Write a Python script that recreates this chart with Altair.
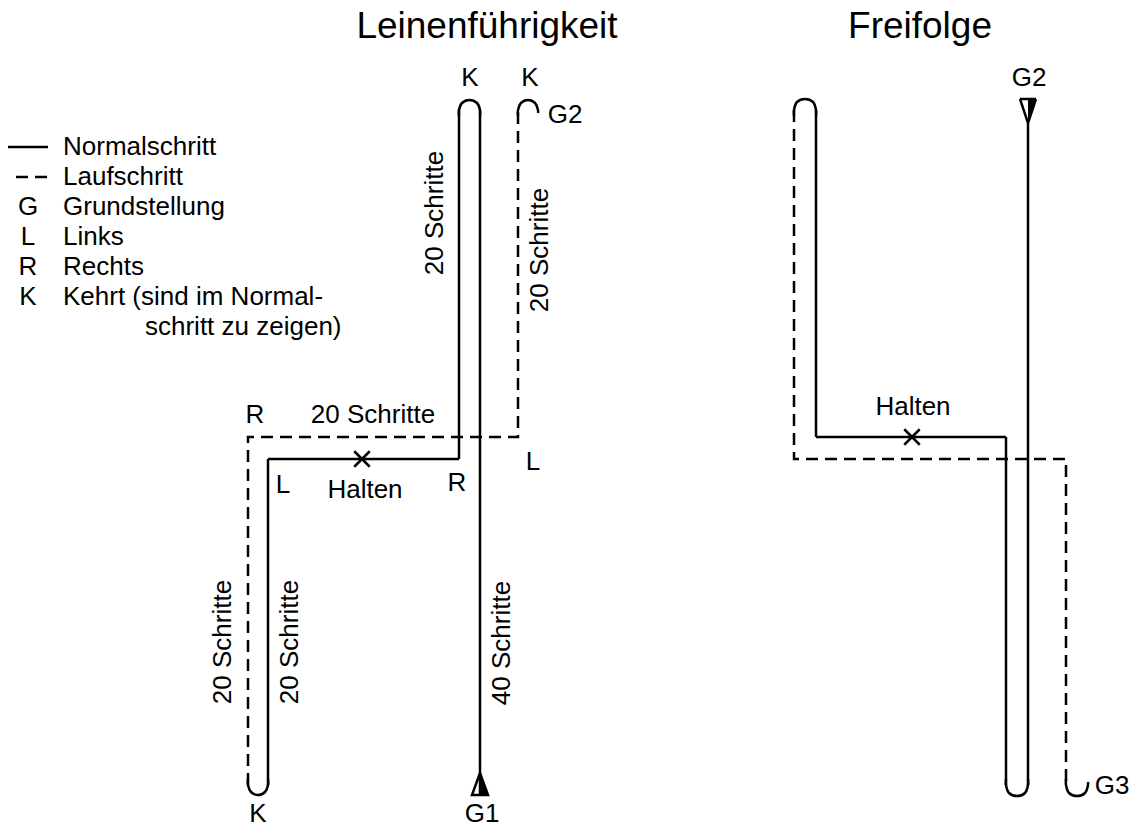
import altair as alt
import pandas as pd

# ---------------- path geometry (reference pixel coordinates) ----------------
# Leinenführigkeit
l1_x = [480, 480];            l1_y = [795, 110]                 # 40 Schritte, Normalschritt
l2_x = [459, 459, 268, 268];  l2_y = [110, 459, 459, 785]       # 20 down, Halten, 20 down
l3_x = [248, 248, 518, 518];  l3_y = [785, 437, 437, 110]       # Laufschritt back
# Freifolge
r1_x = [1028, 1028];          r1_y = [123, 785]
r2_x = [1006, 1006, 816, 816]; r2_y = [785, 437, 437, 110]
r3_x = [794, 794, 1066, 1066]; r3_y = [110, 459, 459, 785]
# legend strokes
leg1_x = [8, 48];  leg1_y = [147, 147]
leg2_x = [16, 48]; leg2_y = [177, 177]
# arrow outlines
tri1_x = [480, 472, 488, 480]; tri1_y = [773, 795, 795, 773]
tri2_x = [1020, 1036, 1028, 1020]; tri2_y = [99, 99, 123, 99]

paths = [
    ("l1", "solid", l1_x, l1_y), ("l2", "solid", l2_x, l2_y), ("l3", "dashed", l3_x, l3_y),
    ("r1", "solid", r1_x, r1_y), ("r2", "solid", r2_x, r2_y), ("r3", "dashed", r3_x, r3_y),
    ("leg1", "solid", leg1_x, leg1_y), ("leg2", "dashed", leg2_x, leg2_y),
    ("tri1", "solid", tri1_x, tri1_y), ("tri2", "solid", tri2_x, tri2_y),
]
rows = []
for pid, style, xs, ys in paths:
    for i, (x, y) in enumerate(zip(xs, ys)):
        rows.append({"path": pid, "style": style, "i": i, "x": x, "y": y})
line_df = pd.DataFrame(rows)

# turns (Kehrt) and end arcs
a1_x = [480, 480, 477, 469.5, 462, 459, 459];   a1_y = [116, 110, 103, 100, 103, 110, 116]
a2_x = [268, 268, 265, 258, 251, 248, 248];     a2_y = [779, 785, 792, 795, 792, 785, 779]
a3_x = [518, 518, 521, 528, 535, 538, 538];     a3_y = [116, 110, 103, 100, 103, 110, 113]
a4_x = [1028, 1028, 1025, 1017, 1009, 1006, 1006]; a4_y = [779, 785, 793, 796, 793, 785, 779]
a5_x = [816, 816, 813, 805, 797, 794, 794];     a5_y = [116, 110, 102, 99, 102, 110, 116]
a6_x = [1066, 1066, 1069, 1077, 1085, 1088, 1088]; a6_y = [779, 785, 793, 796, 793, 785, 782]
arc_rows = []
for pid, xs, ys in [("a1", a1_x, a1_y), ("a2", a2_x, a2_y), ("a3", a3_x, a3_y),
                    ("a4", a4_x, a4_y), ("a5", a5_x, a5_y), ("a6", a6_x, a6_y)]:
    for i, (x, y) in enumerate(zip(xs, ys)):
        arc_rows.append({"path": pid, "i": i, "x": x, "y": y})
arc_df = pd.DataFrame(arc_rows)

# filled halves of the start arrows
f_id = ["g1", "g1", "g2", "g2"]
f_x = [480, 488, 1028, 1036]
f_y = [773, 795, 99, 99]
f_y2 = [795, 795, 123, 99]
fill_df = pd.DataFrame({"id": f_id, "x": f_x, "y": f_y, "y2": f_y2})

# Halten marks
h_x = [362, 912]
h_y = [459, 437]
halt_df = pd.DataFrame({"x": h_x, "y": h_y})

# ---------------- text ----------------
t_text = ["Leinenführigkeit", "Freifolge",
          "K", "K", "G2", "R", "20 Schritte", "L", "Halten", "R", "L",
          "K", "G1", "G2", "Halten", "G3",
          "G", "L", "R", "K"]
t_x = [487, 920,
       470, 530, 565, 255, 373, 283, 365, 457, 533,
       258, 482, 1029, 913, 1112,
       28, 28, 28, 28]
t_y = [27, 27,
       78, 78, 115, 415, 415, 485, 490, 483, 462,
       814, 814, 78, 407, 786,
       207, 237, 267, 297]
t_size = [37, 37] + [26] * 18
text_df = pd.DataFrame({"text": t_text, "x": t_x, "y": t_y, "size": t_size})

v_text = ["20 Schritte", "20 Schritte", "20 Schritte", "20 Schritte", "40 Schritte"]
v_x = [435, 540, 223, 290, 502]
v_y = [213, 250, 642, 642, 643]
vtext_df = pd.DataFrame({"text": v_text, "x": v_x, "y": v_y})

leg_text = ["Normalschritt", "Laufschritt", "Grundstellung", "Links", "Rechts",
            "Kehrt (sind im Normal-", "schritt zu zeigen)"]
leg_x = [63, 63, 63, 63, 63, 63, 145]
leg_y = [147, 177, 207, 237, 267, 297, 327]
legtext_df = pd.DataFrame({"text": leg_text, "x": leg_x, "y": leg_y})

# ---------------- chart ----------------
FONT = "Liberation Sans"
X = alt.Scale(domain=[8, 1130], nice=False, zero=False)
Y = alt.Scale(domain=[8, 825], nice=False, zero=False, reverse=True)

def xe(f="x"):
    return alt.X(f + ":Q", scale=X, axis=None)

def ye(f="y"):
    return alt.Y(f + ":Q", scale=Y, axis=None)

lines = alt.Chart(line_df).mark_line(color="black", strokeWidth=2.5, strokeCap="butt").encode(
    x=xe(), y=ye(), detail="path:N", order="i:Q",
    strokeDash=alt.StrokeDash("style:N", scale=alt.Scale(domain=["solid", "dashed"],
                                                         range=[[1, 0], [12, 7]]), legend=None),
)

arcs = alt.Chart(arc_df).mark_line(color="black", strokeWidth=2.5, interpolate="catmull-rom").encode(
    x=xe(), y=ye(), detail="path:N", order="i:Q",
)

fills = alt.Chart(fill_df).mark_area(color="black", orient="vertical", opacity=1).encode(
    x=xe(), y=ye(), y2="y2:Q", detail="id:N",
)

halts = alt.Chart(halt_df).mark_point(shape="M-1,-1L1,1M1,-1L-1,1", size=240, color="black",
                                      strokeWidth=2.5, filled=False, opacity=1).encode(
    x=xe(), y=ye(),
)

texts = alt.Chart(text_df).mark_text(font=FONT, color="black", align="center", baseline="middle").encode(
    x=xe(), y=ye(), text="text:N", size=alt.Size("size:Q", scale=None),
)

vtexts = alt.Chart(vtext_df).mark_text(font=FONT, color="black", align="center", baseline="middle",
                                       angle=270, fontSize=26).encode(
    x=xe(), y=ye(), text="text:N",
)

legtexts = alt.Chart(legtext_df).mark_text(font=FONT, color="black", align="left", baseline="middle",
                                           fontSize=26).encode(
    x=xe(), y=ye(), text="text:N",
)

chart = alt.layer(lines, arcs, fills, halts, texts, vtexts, legtexts).properties(
    width=1122, height=817, autosize=alt.AutoSizeParams(type="none"), padding=0,
    background="white",
).configure_view(stroke=None)

chart.save("out.html", embed_options={"renderer": "svg", "actions": False})
